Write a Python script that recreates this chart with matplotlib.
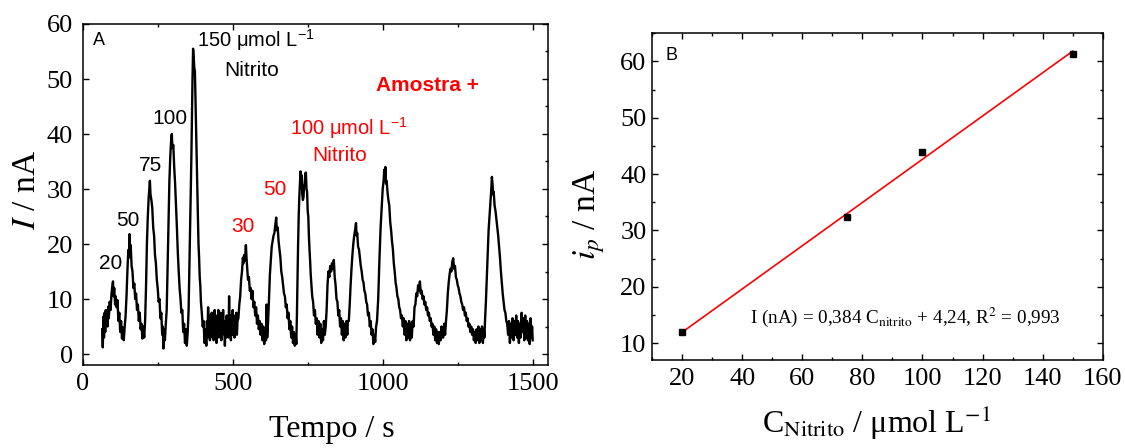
import matplotlib
matplotlib.use('Agg')
import matplotlib.pyplot as plt
from matplotlib.ticker import MultipleLocator

# ---------------- Panel A data (amperometric trace) ----------------
trace_time_s = [
    65, 67, 69, 71, 73, 75, 77, 79, 81, 83, 85, 87,
    90, 93, 96, 99, 101, 103, 105, 108, 110, 113, 116, 119, 122, 125, 128, 131, 134, 137, 140,
    143, 146, 149, 152, 154, 156, 158, 160, 163, 166, 169, 172, 175, 178, 181, 184, 187, 190, 193, 196, 199, 202, 205,
    208, 211, 214, 217, 220, 222, 224, 226, 229, 232, 235, 238, 241, 244, 247, 250, 253, 256, 259, 262, 265, 267, 269, 271, 274, 277,
    280, 283, 286, 289, 292, 295, 297, 299, 302, 305, 308, 311, 314, 317, 320, 323, 326, 329, 332, 335, 338, 341, 344, 347, 350,
    353, 356, 359, 362, 364, 366, 368, 370, 372, 374, 376, 378, 380, 382, 384, 386, 388, 390, 392, 394, 397, 400, 403, 406, 409,
    412, 414, 416, 418, 420, 422, 424, 426, 428, 430,
    432, 434, 436, 438, 440, 442, 444, 446, 448, 450,
    452, 454, 456, 458, 460, 462, 464, 466, 468, 470,
    472, 474, 476, 478, 480, 482, 484, 486, 488, 490,
    492, 494, 496, 498, 500, 502, 504, 506, 508, 510,
    512, 514, 516,
    519, 522, 525, 528, 531, 534, 536, 538, 541, 544, 546, 548, 551, 554, 557, 560, 563, 566, 569, 572, 575, 578, 581, 584, 587, 590, 593, 596, 599, 602, 605, 608, 611, 613, 615,
    618, 621, 624, 627, 630, 633, 636, 639, 642, 645, 647, 650, 653, 656, 659, 662, 665, 668, 671, 674, 677, 680, 683, 686, 689, 692, 695, 698, 701, 704, 707, 710, 712,
    714, 716, 718, 720, 722, 724, 726, 728, 730, 732, 734, 736, 738, 740, 742, 744, 746, 748, 750, 752, 754, 756, 758, 760, 762, 765, 768, 771, 774, 777, 780, 783, 786, 789, 792, 795, 798, 801, 804, 807, 810,
    813, 816, 819, 822, 825, 828, 831, 834, 837, 840, 843, 846, 849, 852, 855, 858, 861, 864, 867, 870, 873, 876, 879, 882, 884,
    887, 890, 893, 896, 899, 902, 905, 908, 911, 913, 915, 918, 921, 924, 927, 930, 933, 936, 939, 942, 945, 948, 951, 954, 957, 960, 963, 966, 969, 972, 975,
    978, 981, 985, 989, 993, 997, 1000, 1003, 1005, 1007, 1009, 1011, 1013, 1016, 1019, 1022, 1025, 1028, 1031, 1034, 1037, 1040, 1043, 1046, 1049, 1052, 1055, 1058, 1061, 1064, 1067, 1070,
    1073, 1076, 1079, 1082, 1085, 1088, 1091, 1094, 1097, 1100, 1103, 1106, 1109, 1112, 1115, 1118, 1121, 1124, 1127, 1130, 1133, 1136, 1139, 1142, 1145, 1148, 1151, 1154, 1157, 1160, 1163, 1166, 1169, 1172, 1175, 1178, 1181, 1184, 1187, 1190, 1193, 1196, 1199,
    1202, 1205, 1208, 1211, 1214, 1217, 1220, 1223, 1226, 1229, 1232, 1235, 1238, 1241, 1244, 1247, 1250, 1253, 1256, 1259, 1262, 1265, 1268, 1271, 1274, 1277, 1280, 1283, 1286, 1289, 1292, 1295, 1298, 1301, 1304, 1307, 1310, 1313, 1316, 1319, 1322, 1325, 1328, 1331, 1334, 1337, 1339,
    1341, 1344, 1347, 1350, 1353, 1356, 1359, 1362, 1364, 1366, 1368, 1370, 1373, 1376, 1379, 1382, 1385, 1388, 1391, 1394, 1397, 1400, 1403, 1406, 1409, 1412, 1415, 1418,
    1421, 1424, 1427, 1430, 1433, 1436, 1439, 1442, 1445, 1448, 1451, 1454, 1457, 1460, 1463, 1466, 1469, 1472, 1475, 1478, 1481, 1484, 1487, 1490, 1493, 1496, 1498, 1500,
]
trace_current_nA = [
    4.5, 1.2, 6.8, 3.0, 7.5, 4.0, 8.0, 5.2, 7.8, 5.0, 8.6, 6.5,
    9.5, 8.0, 11.0, 12.5, 13.2, 10.5, 12.0, 9.0, 10.5, 8.5, 9.8, 6.0, 7.5, 4.0, 6.0, 2.8, 4.8, 2.5, 5.0,
    7.0, 10.5, 15.0, 18.9, 17.5, 21.8, 19.0, 19.8, 16.0, 15.0, 12.0, 12.8, 10.0, 11.0, 8.0, 9.0, 6.0, 7.5, 4.5, 5.5, 2.8, 5.0, 3.0,
    6.0, 12.0, 20.0, 25.0, 28.5, 30.0, 31.5, 29.0, 28.0, 26.5, 23.0, 21.5, 18.0, 16.5, 13.5, 12.0, 9.5, 10.0, 6.5, 7.5, 3.5, 5.0, 1.0, 4.5, 2.5, 5.5,
    8.0, 16.0, 24.0, 31.5, 36.0, 39.0, 40.0, 37.5, 38.0, 34.0, 31.0, 27.0, 23.0, 18.5, 15.0, 12.0, 10.0, 7.5, 8.0, 4.0, 5.5, 2.0, 4.5, 1.5, 4.0,
    8.0, 17.0, 26.0, 35.0, 43.0, 50.0, 55.5, 54.0, 52.0, 51.5, 46.0, 40.0, 35.0, 29.0, 25.0, 20.0, 17.5, 14.0, 12.5, 9.5, 7.5, 5.0, 6.0, 2.0, 4.5,
    1.5, 6.0, 3.0, 8.5, 4.0, 7.0, 2.5, 6.5, 3.5, 7.5,
    3.0, 6.0, 2.5, 5.5, 8.0, 3.5, 6.5, 2.0, 7.0, 4.0,
    8.0, 3.0, 6.0, 4.5, 7.5, 2.5, 6.5, 3.5, 8.0, 4.0,
    6.0, 1.5, 5.5, 3.0, 7.0, 4.5, 6.5, 3.0, 10.5, 4.0,
    7.0, 2.5, 6.5, 3.5, 8.0, 4.0, 7.0, 3.0, 6.0, 4.5,
    7.5, 3.5, 6.0,
    6.5, 9.0, 10.5, 13.5, 15.0, 17.5, 16.5, 18.0, 17.0, 19.8, 17.5, 16.0, 13.5, 14.0, 11.5, 12.0, 10.0, 11.5, 8.5, 9.5, 7.0, 8.5, 5.5, 7.0, 4.5, 6.0, 3.5, 5.5, 2.5, 5.0, 1.8, 4.0, 2.5, 9.0, 3.0,
    6.0, 10.0, 14.5, 17.0, 19.5, 20.5, 21.5, 22.0, 23.5, 24.8, 22.5, 23.0, 20.5, 19.0, 17.5, 15.0, 14.0, 12.5, 11.0, 10.5, 8.5, 9.0, 6.5, 7.5, 4.5, 6.0, 3.0, 5.0, 2.0, 4.0, 1.5, 3.5, 1.8,
    7.0, 14.0, 20.0, 25.0, 28.5, 31.0, 33.2, 31.5, 32.5, 29.0, 28.0, 28.5, 30.5, 31.0, 32.8, 33.0, 30.0, 29.5, 26.0, 25.0, 21.5, 19.0, 17.0, 14.5, 13.0, 10.5, 9.5, 7.0, 8.0, 5.5, 6.5, 3.5, 6.0, 3.0, 5.5, 2.0, 4.5, 2.5, 6.0, 3.5, 5.0,
    8.0, 12.5, 15.0, 14.0, 16.0, 15.0, 16.5, 15.5, 17.1, 14.0, 12.5, 10.0, 9.5, 7.0, 8.0, 5.0, 6.5, 3.5, 6.0, 2.5, 5.5, 3.0, 6.0, 3.5, 6.0,
    6.0, 9.0, 12.5, 15.5, 18.0, 20.0, 21.5, 22.5, 23.8, 21.5, 22.0, 19.5, 19.0, 17.5, 16.0, 15.0, 13.5, 13.0, 11.5, 11.0, 9.5, 9.0, 7.0, 7.5, 5.0, 6.0, 3.5, 4.5, 1.8, 3.5, 2.2,
    5.0, 6.0, 10.0, 17.0, 23.0, 27.0, 30.0, 31.5, 33.5, 32.0, 34.0, 31.0, 31.5, 29.5, 28.0, 27.0, 24.0, 22.5, 20.5, 19.0, 16.5, 15.0, 13.0, 12.0, 10.5, 10.0, 8.5, 8.0, 6.5, 7.0, 5.0, 6.5,
    3.5, 6.0, 2.5, 5.5, 3.0, 6.0, 2.5, 5.5, 3.0, 6.0, 5.0, 8.5, 9.0, 11.0, 10.5, 12.5, 11.5, 13.2, 11.0, 11.5, 10.0, 10.5, 9.0, 9.5, 8.0, 8.5, 7.0, 7.5, 6.0, 6.5, 5.0, 5.5, 3.5, 5.0, 2.5, 4.5, 2.0, 4.0, 1.8, 4.0, 2.5, 5.0, 3.0,
    3.0, 5.5, 3.5, 6.0, 8.0, 11.0, 13.0, 14.5, 15.5, 15.0, 16.8, 17.4, 15.5, 16.0, 14.0, 13.5, 12.5, 12.0, 11.0, 10.5, 9.5, 9.0, 8.0, 8.5, 7.0, 7.5, 6.0, 6.5, 5.0, 5.5, 4.0, 5.0, 3.5, 4.5, 2.5, 4.0, 2.0, 4.5, 2.5, 5.0, 2.0, 4.5, 2.5, 5.0, 2.0, 4.5, 3.0,
    6.0, 9.5, 14.0, 18.5, 22.5, 25.0, 27.5, 30.0, 32.2, 31.0, 29.0, 29.5, 27.0, 26.0, 24.5, 23.0, 21.5, 19.5, 17.5, 15.0, 13.0, 11.0, 9.5, 8.0, 7.5, 6.0, 5.5, 3.5,
    6.0, 2.0, 5.5, 3.0, 6.5, 2.5, 6.0, 3.5, 7.0, 3.0, 6.0, 2.0, 5.5, 3.0, 7.5, 4.0, 6.5, 2.5, 7.0, 3.0, 6.0, 2.5, 5.5, 1.8, 6.5, 3.0, 5.0, 2.5,
]

# Peak labels on panel A
std_labels = ["20", "50", "75", "100"]
std_label_t = [93, 152, 226, 290]
std_label_v = [15.4, 23.3, 33.3, 41.8]
sample_labels = ["30", "50"]
sample_label_t = [534, 640]
sample_label_v = [22.1, 29.0]

# ---------------- Panel B data (calibration) ----------------
conc_umol = [20, 75, 100, 150]
ip_nA = [11.9, 32.3, 44.0, 61.3]
fit_slope = 0.384
fit_intercept = 4.24
fit_range = [20, 150]

# ---------------- Styling ----------------
plt.rcParams['font.family'] = ['Liberation Serif', 'DejaVu Serif']
plt.rcParams['mathtext.fontset'] = 'custom'
plt.rcParams['mathtext.rm'] = 'Liberation Sans'
plt.rcParams['mathtext.it'] = 'Liberation Sans:italic'
plt.rcParams['mathtext.bf'] = 'Liberation Sans:bold'

W, H = 1125, 448
fig = plt.figure(figsize=(W / 100, H / 100), dpi=100)

def px_axes(l, t, r, b):
    return [l / W, 1 - b / H, (r - l) / W, (b - t) / H]

axA = fig.add_axes(px_axes(82.7, 24, 548, 365))
axB = fig.add_axes(px_axes(652, 33.3, 1102.8, 360))

for ax in (axA, axB):
    for s in ax.spines.values():
        s.set_linewidth(1.1)
    ax.tick_params(which='both', direction='in', top=True, right=True, width=1.0, labelsize=19)
    ax.tick_params(which='major', length=4)
    ax.tick_params(which='minor', length=2.5)

# ---- Panel A ----
axA.plot(trace_time_s, trace_current_nA, color='black', lw=1.7)
axA.set_xlim(0, 1551)
axA.set_ylim(-2, 60)
axA.xaxis.set_major_locator(MultipleLocator(500))
axA.xaxis.set_minor_locator(MultipleLocator(250))
axA.yaxis.set_major_locator(MultipleLocator(10))
axA.yaxis.set_minor_locator(MultipleLocator(5))
axA.tick_params(axis='y', which='minor', left=False)
axA.tick_params(axis='y', pad=7)
axA.tick_params(axis='x', pad=6)

axA.set_xlabel('Tempo / s', fontsize=23, va='baseline')
axA.xaxis.set_label_coords((332 - 82.7) / 465.3, (365 - 436.7) / 341)
axA.set_ylabel('$I$ / nA', fontsize=24, math_fontfamily='stix', va='center')
axA.yaxis.set_label_coords((27 - 82.7) / 465.3, 0.513)

sans = 'Liberation Sans'
axA.text(35, 56.2, 'A', family=sans, fontsize=13, ha='left', va='baseline')
axA.text(380, 55.9, '150 μmol L$^{-1}$', family=sans, fontsize=14.5, ha='left', va='baseline')
axA.text(562, 50.5, 'Nitrito', family=sans, fontsize=15, ha='center', va='baseline')
axA.text(1148, 47.8, 'Amostra +', family=sans, fontsize=15, fontweight='bold', color='red',
         ha='center', va='baseline')
axA.text(691, 39.8, '100 μmol L$^{-1}$', family=sans, fontsize=14.5, color='red', ha='left', va='baseline')
axA.text(858, 35.1, 'Nitrito', family=sans, fontsize=15, color='red', ha='center', va='baseline')
for lab, t, v in zip(std_labels, std_label_t, std_label_v):
    axA.text(t, v, lab, family=sans, fontsize=15, ha='center', va='baseline')
for lab, t, v in zip(sample_labels, sample_label_t, sample_label_v):
    axA.text(t, v, lab, family=sans, fontsize=15, color='red', ha='center', va='baseline')

# ---- Panel B ----
fit_y = [fit_slope * x + fit_intercept for x in fit_range]
axB.plot(fit_range, fit_y, color='red', lw=1.2, zorder=2)
axB.plot(conc_umol, ip_nA, 's', color='black', ms=5, zorder=3)
axB.set_xlim(10, 160)
axB.set_ylim(7, 65)
axB.xaxis.set_major_locator(MultipleLocator(20))
axB.xaxis.set_minor_locator(MultipleLocator(10))
axB.yaxis.set_major_locator(MultipleLocator(10))
axB.yaxis.set_minor_locator(MultipleLocator(5))
axB.tick_params(axis='y', pad=4)
axB.tick_params(axis='x', pad=6)

axB.set_xlabel('C$_{\\mathrm{Nitrito}}$ / μmol L$^{-1}$', fontsize=23, math_fontfamily='stix', va='baseline')
axB.xaxis.set_label_coords(0.499, (360 - 433) / 326.7)
axB.set_ylabel('$i_{p}$ / nA', fontsize=24, math_fontfamily='stix', va='center')
axB.yaxis.set_label_coords((589 - 652) / 450.8, 0.444)

axB.text(14.5, 60.3, 'B', family=sans, fontsize=13, ha='left', va='baseline')
axB.text(42.5, 13.5, 'I (nA) = 0,384 C$_{\\mathrm{nitrito}}$ + 4,24, R$^{2}$ = 0,993',
         fontsize=13.8, math_fontfamily='stix', ha='left', va='baseline')

fig.savefig('out.png', dpi=100)
